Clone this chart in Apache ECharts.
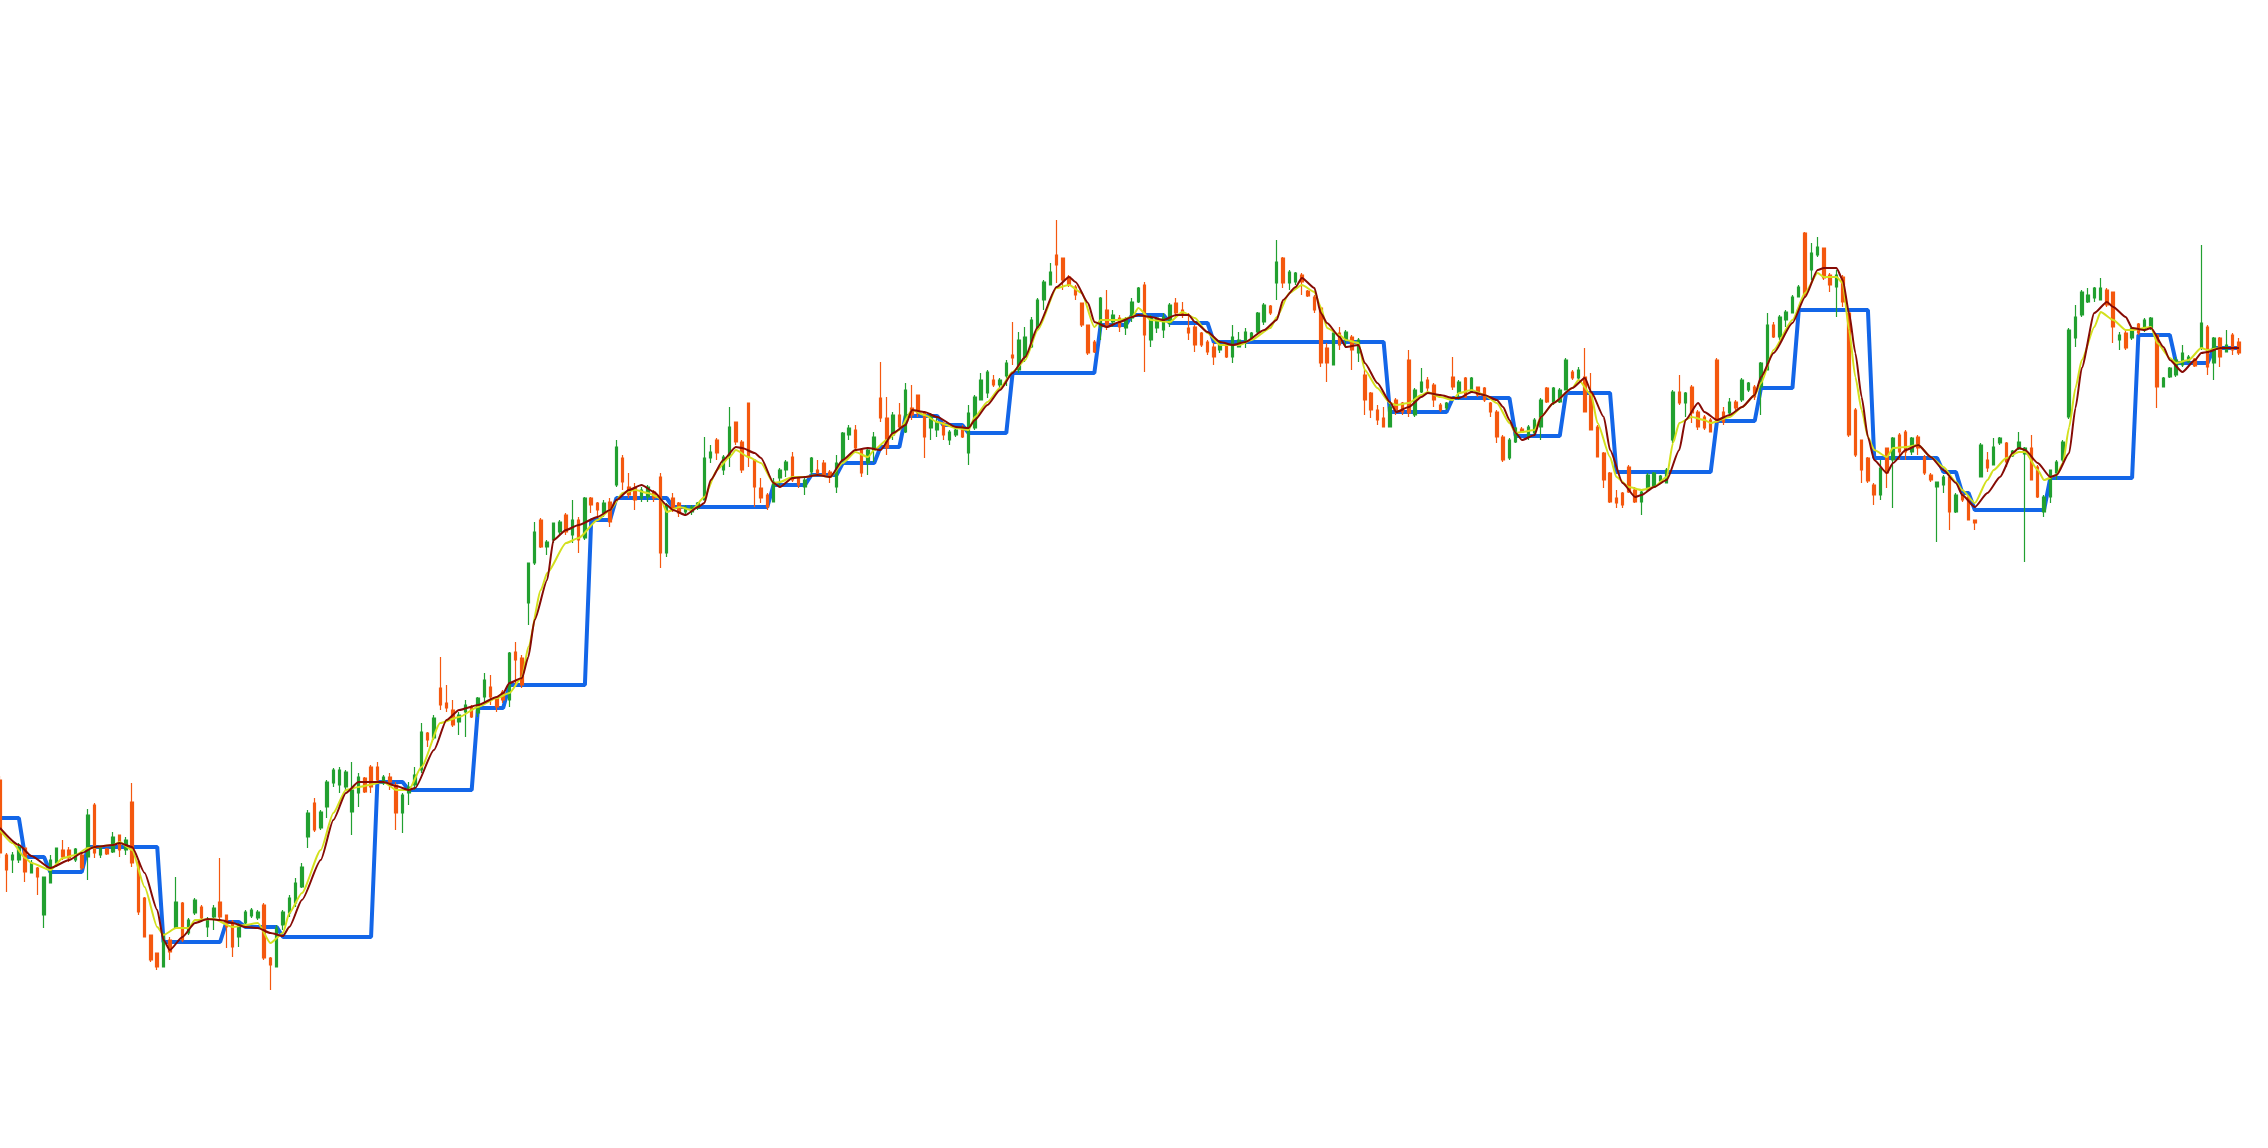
<!DOCTYPE html>
<html>
<head>
<meta charset="utf-8">
<script src="https://cdn.jsdelivr.net/npm/echarts@6/dist/echarts.min.js"></script>
<style>
html,body{margin:0;padding:0;background:#ffffff;}
#chart{width:2268px;height:1148px;}
</style>
</head>
<body>
<div id="chart"></div>
<script>
// OHLC values, one entry per trading bar
const opens = [
368,293,288,288,300,275,280,233,265,285,
298,298,288,293,291,343,293,299,296,313,
298,346,286,250,213,195,181,208,220,245,
215,235,241,221,231,246,233,226,211,225,
232,230,243,190,181,223,235,245,261,311,
345,320,341,365,363,361,336,355,370,381,
381,365,371,363,335,355,363,378,415,410,
460,445,438,426,436,441,435,451,461,450,
456,448,496,490,545,585,628,601,608,616,
633,613,628,610,650,645,635,646,663,690,
661,660,650,651,656,671,595,650,645,636,
636,640,648,690,708,678,691,726,706,745,
688,660,653,646,670,678,691,670,661,676,
678,685,676,661,688,713,718,698,685,698,
750,730,713,733,716,740,753,735,720,718,
725,708,713,718,695,720,748,755,768,763,
772,793,778,791,801,820,848,863,893,890,
871,861,845,823,806,821,838,826,830,820,
830,846,863,808,820,818,825,845,838,820,
821,815,806,801,798,803,791,801,805,810,
816,826,842,865,890,865,866,873,857,851,
840,800,783,815,808,811,795,773,755,738,
730,721,748,745,788,733,756,768,763,743,
740,771,755,770,756,761,760,745,736,711,
690,706,719,711,715,721,760,745,746,758,
776,770,771,755,721,695,675,650,655,681,
658,646,658,661,667,665,708,756,745,761,
736,731,728,788,736,735,746,748,758,761,
761,778,823,811,828,835,851,915,878,893,
900,873,861,871,835,738,708,690,663,653,
700,688,713,716,696,711,691,673,661,663,
671,636,653,651,628,671,688,683,705,705,
692,699,694,700,681,636,651,675,688,731,
810,833,846,850,848,858,856,808,815,810,
824,818,820,813,761,771,773,783,786,789,
800,821,785,810,796,813,806
];
const closes = [
295,278,293,301,276,285,271,271,288,300,
291,290,299,280,333,295,300,294,311,298,
308,285,236,211,188,181,213,196,246,208,
228,248,230,228,240,231,221,201,223,236,
238,236,190,183,220,236,250,265,281,335,
318,336,366,378,378,376,358,371,356,361,
368,371,366,335,353,361,373,416,408,430,
443,440,423,433,443,431,450,468,451,441,
448,495,488,463,585,616,601,606,625,626,
616,628,608,650,643,638,645,626,701,666,
653,648,658,661,650,595,643,640,635,641,
641,645,690,696,695,691,721,706,678,691,
661,650,641,666,678,686,668,663,668,690,
675,673,671,685,715,720,700,675,698,711,
730,700,733,721,758,733,735,711,733,726,
713,716,718,711,735,751,768,776,763,768,
785,790,808,811,828,848,866,876,883,868,
863,853,823,795,796,850,823,833,821,828,
846,860,813,830,830,831,843,835,833,815,
803,803,796,791,803,791,811,808,816,815,
835,843,835,886,865,876,875,866,852,838,
785,785,815,803,816,798,808,748,738,728,
721,741,738,736,735,758,766,760,748,738,
745,761,766,751,770,753,748,736,711,688,
708,720,716,721,728,748,746,760,758,788,
770,778,736,718,691,668,646,645,643,656,
646,656,673,675,672,678,756,745,755,735,
721,720,716,726,726,746,740,768,765,751,
785,823,811,831,836,851,861,853,895,901,
870,863,873,846,713,693,678,667,653,680,
675,710,696,696,710,700,675,668,666,671,
636,653,648,628,625,703,680,701,710,686,
697,706,700,668,651,651,678,686,706,818,
831,856,853,860,860,843,821,813,800,820,
815,828,830,761,770,780,788,795,791,782,
825,781,810,791,803,798,795
];
const lows = [
290,256,275,285,266,275,253,220,265,281,
288,286,286,278,268,290,290,293,295,291,
293,281,233,211,186,178,181,188,220,206,
213,233,228,211,218,228,200,191,201,220,
230,228,188,158,181,218,231,241,260,300,
316,318,330,361,355,358,313,341,355,355,
365,363,358,318,315,343,358,375,401,408,
438,436,421,413,411,430,431,445,443,436,
445,441,461,460,523,583,600,593,605,613,
613,605,595,608,635,631,631,621,661,658,
650,638,646,646,646,580,591,636,631,633,
633,638,648,685,688,673,681,703,675,681,
641,645,638,646,661,671,666,660,653,671,
673,671,665,655,686,708,698,671,673,686,
726,693,708,718,715,728,731,690,708,711,
708,703,711,710,683,718,748,750,761,760,
762,783,775,786,800,818,838,863,865,858,
861,848,821,793,795,808,818,821,816,813,
826,845,776,801,815,810,821,831,830,808,
796,801,793,783,795,790,785,801,800,808,
815,823,833,848,860,858,863,853,851,835,
781,766,783,798,800,778,786,733,730,723,
721,721,733,733,731,731,755,756,741,736,
738,758,748,750,755,751,746,731,705,686,
688,705,715,708,713,708,745,743,745,758,
768,768,736,718,691,660,645,640,640,655,
645,633,658,661,666,665,705,743,731,725,
718,718,716,725,723,731,738,746,756,748,
733,778,810,808,821,835,851,851,868,891,
868,856,831,841,711,691,665,665,643,648,
660,640,688,688,693,693,673,666,606,655,
618,635,646,628,618,671,676,683,703,681,
691,698,586,668,650,631,645,668,686,729,
801,831,845,846,848,841,805,798,798,808,
813,816,818,740,761,770,771,781,785,781,
798,773,768,781,796,793,793
];
const highs = [
372,295,296,305,300,288,281,271,293,300,
308,301,300,295,339,345,301,300,316,313,
311,365,288,251,213,195,215,211,271,246,
230,250,243,231,243,290,233,228,225,238,
240,238,245,191,223,238,253,270,285,338,
350,338,368,380,381,378,386,375,371,383,
386,373,375,366,355,366,381,425,416,433,
491,463,448,436,448,443,451,475,473,451,
458,496,506,493,585,626,630,608,625,628,
635,648,631,651,651,646,648,650,708,693,
675,665,661,663,658,675,645,655,646,643,
643,646,711,703,710,693,741,726,708,745,
688,670,655,670,680,688,696,671,671,691,
688,688,678,693,716,723,723,700,701,716,
786,751,736,745,765,763,753,735,735,731,
726,718,720,723,743,753,775,778,773,770,
788,826,816,821,831,850,868,885,928,890,
873,863,845,823,808,851,858,838,833,831,
850,861,866,833,831,835,845,850,846,835,
823,816,808,805,808,805,823,816,820,816,
836,845,843,908,891,878,876,875,858,853,
841,805,816,821,818,813,810,778,756,743,
741,746,750,746,798,760,780,771,765,745,
746,791,768,771,771,761,761,746,738,713,
710,721,721,723,730,750,761,761,760,790,
778,781,800,775,723,696,676,658,656,683,
661,658,675,676,673,680,758,773,756,763,
738,733,730,790,741,750,748,770,766,763,
786,835,826,833,838,853,863,916,905,911,
900,875,878,873,837,740,708,691,665,688,
700,711,715,718,711,713,693,675,666,673,
673,655,655,653,628,705,696,710,711,706,
698,716,701,713,683,653,678,688,708,820,
843,858,860,861,870,860,856,816,818,821,
825,830,831,813,771,781,791,803,793,790,
903,823,811,811,818,815,810
];

// Fast average line (dark red), read at key bars: [bar index, value]
const maFast = [
[0,320],[3,303],[5,292],[8,280],[11,288],[13,295],[15,301],[18,303],[19,305],[21,301],
[23,275],[25,238],[26,208],[27,198],[29,211],[31,225],[33,229],[35,228],[37,225],[39,221],
[41,220],[43,215],[45,212],[46,221],[48,248],[51,288],[53,328],[55,355],[57,366],[61,366],
[63,362],[65,358],[66,360],[69,398],[71,428],[73,438],[76,443],[79,451],[80,455],[81,465],
[83,470],[84,491],[85,528],[87,568],[88,608],[90,618],[92,623],[95,631],[97,638],[98,648],
[100,658],[102,663],[104,656],[106,643],[107,638],[109,633],[111,641],[112,645],[113,668],[115,688],
[117,701],[118,700],[120,695],[121,690],[123,665],[124,661],[126,670],[128,671],[130,673],[132,671],
[134,688],[136,698],[138,700],[140,698],[142,715],[144,723],[145,738],[147,736],[149,731],[152,721],
[154,720],[155,728],[157,743],[159,758],[161,775],[163,791],[165,821],[168,861],[170,871],[171,866],
[173,845],[174,826],[176,821],[178,826],[180,831],[181,833],[183,831],[185,828],[187,833],[189,833],
[190,826],[192,816],[194,806],[196,803],[198,806],[201,818],[203,828],[204,848],[206,861],[207,870],
[209,860],[210,835],[211,825],[213,811],[214,801],[216,803],[217,785],[219,765],[221,746],[222,736],
[224,741],[226,751],[227,755],[229,753],[231,750],[232,750],[234,756],[236,753],[238,748],[239,741],
[240,728],[241,715],[242,708],[244,713],[245,731],[247,745],[250,760],[252,770],[253,756],[255,731],
[256,698],[258,665],[260,651],[261,653],[263,661],[265,668],[267,698],[268,728],[270,745],[271,736],
[273,728],[275,733],[277,741],[279,753],[280,771],[282,795],[285,825],[287,851],[289,878],[290,880],
[292,880],[293,868],[294,835],[295,795],[296,751],[297,711],[298,688],[300,675],[301,685],[303,698],
[305,703],[307,691],[309,678],[311,665],[312,653],[314,641],[316,655],[318,671],[320,695],[321,700],
[322,698],[324,685],[326,671],[327,673],[329,695],[330,740],[331,780],[333,835],[335,846],[336,841],
[338,831],[339,820],[341,818],[342,820],[344,801],[345,788],[347,776],[349,788],[350,795],[351,796],
[353,800],[356,800]
];

// Slow average line (yellow), read at key bars: [bar index, value]
const maSlow = [
[0,318],[2,305],[4,290],[5,285],[8,278],[10,290],[12,293],[14,300],[18,303],[19,306],
[21,298],[23,261],[25,221],[26,213],[28,220],[30,220],[31,228],[34,229],[37,221],[39,223],
[41,225],[43,205],[45,215],[46,235],[48,255],[51,298],[53,335],[55,358],[57,361],[61,366],
[63,358],[65,358],[67,381],[70,425],[73,431],[76,441],[79,450],[81,455],[83,471],[84,501],
[86,558],[87,575],[90,605],[92,610],[95,628],[97,638],[99,655],[101,658],[103,655],[105,650],
[106,636],[108,641],[110,638],[112,651],[114,678],[116,691],[117,698],[119,691],[121,685],[123,665],
[124,666],[126,671],[128,671],[130,673],[132,671],[134,685],[136,696],[138,691],[139,698],[141,708],
[143,718],[145,738],[147,733],[149,726],[152,720],[154,718],[155,731],[157,746],[159,760],[161,776],
[163,788],[165,818],[168,860],[170,863],[172,855],[174,821],[175,828],[178,828],[180,831],[181,840],
[183,828],[186,826],[188,836],[190,830],[192,815],[194,803],[197,803],[199,808],[202,820],[203,831],
[205,855],[207,863],[209,856],[210,841],[211,820],[213,813],[214,808],[216,805],[217,778],[219,760],
[221,745],[222,743],[224,745],[226,753],[227,756],[229,751],[231,748],[232,755],[234,758],[236,753],
[238,745],[240,725],[241,715],[242,716],[244,718],[245,731],[247,745],[250,760],[251,768],[253,753],
[254,725],[256,691],[257,671],[259,661],[261,658],[263,661],[265,671],[266,705],[267,725],[269,731],
[271,728],[272,725],[275,731],[277,741],[279,753],[280,765],[282,798],[285,828],[287,855],[289,875],
[290,871],[292,871],[293,865],[294,818],[295,771],[296,738],[297,711],[298,698],[300,691],[301,700],
[303,701],[305,703],[307,691],[309,681],[311,666],[312,658],[314,645],[316,668],[317,678],[319,690],
[321,696],[322,696],[324,678],[325,668],[327,673],[328,685],[329,721],[330,760],[331,788],[333,821],
[334,836],[336,828],[338,818],[339,818],[342,821],[343,805],[345,790],[346,785],[348,788],[350,800],
[351,798],[353,800],[356,800]
];

// Blue level line: corners of each flat level, [bar index, value]
const levels = [
[0,330],[3,330],[4,291],[7,291],[8,276],[13,276],[14,301],[25,301],[26,206],[35,206],
[36,226],[38,226],[39,221],[44,221],[45,211],[59,211],[60,366],[64,366],[65,358],[75,358],
[76,440],[80,440],[81,463],[93,463],[94,628],[97,628],[98,650],[106,650],[107,641],[122,641],
[123,663],[128,663],[129,673],[133,673],[134,685],[139,685],[140,701],[143,701],[144,732],[149,732],
[150,723],[153,723],[154,715],[160,715],[161,775],[174,775],[175,823],[179,823],[180,833],[185,833],
[186,825],[192,825],[193,806],[220,806],[221,736],[230,736],[231,750],[240,750],[241,712],[248,712],
[249,755],[256,755],[257,676],[272,676],[273,727],[279,727],[280,760],[285,760],[286,838],[297,838],
[298,690],[308,690],[309,676],[311,676],[312,655],[313,655],[314,638],[325,638],[326,670],[339,670],
[340,813],[345,813],[346,785],[351,785],[352,800],[356,800]
];

const categories = opens.map((_, i) => 'Bar ' + (i + 1));
const candleData = opens.map((o, i) => [o, closes[i], lows[i], highs[i]]);

const chart = echarts.init(document.getElementById('chart'), null, {renderer: 'canvas'});
chart.setOption({
  animation: false,
  backgroundColor: '#ffffff',
  grid: {left: 0, right: 29, top: 0, bottom: 0, containLabel: false},
  xAxis: {
    type: 'category',
    data: categories,
    boundaryGap: false,
    show: false
  },
  yAxis: {
    type: 'value',
    min: 0,
    max: 1148,
    show: false,
    splitLine: {show: false}
  },
  series: [
    {
      name: 'Level',
      type: 'line',
      data: levels,
      showSymbol: false,
      symbol: 'none',
      lineStyle: {color: '#1366e8', width: 4},
      z: 1
    },
    {
      name: 'Price',
      type: 'candlestick',
      data: candleData,
      barWidth: 3,
      itemStyle: {
        color: '#22a030',
        color0: '#f4580f',
        borderColor: '#22a030',
        borderColor0: '#f4580f',
        borderWidth: 1.2
      },
      z: 2
    },
    {
      name: 'MA slow',
      type: 'line',
      data: maSlow,
      smooth: 0.2,
      smoothMonotone: 'x',
      showSymbol: false,
      symbol: 'none',
      lineStyle: {color: '#d3e01e', width: 2},
      z: 3
    },
    {
      name: 'MA fast',
      type: 'line',
      data: maFast,
      smooth: 0.2,
      smoothMonotone: 'x',
      showSymbol: false,
      symbol: 'none',
      lineStyle: {color: '#860b05', width: 2},
      z: 4
    }
  ]
});
</script>
</body>
</html>
